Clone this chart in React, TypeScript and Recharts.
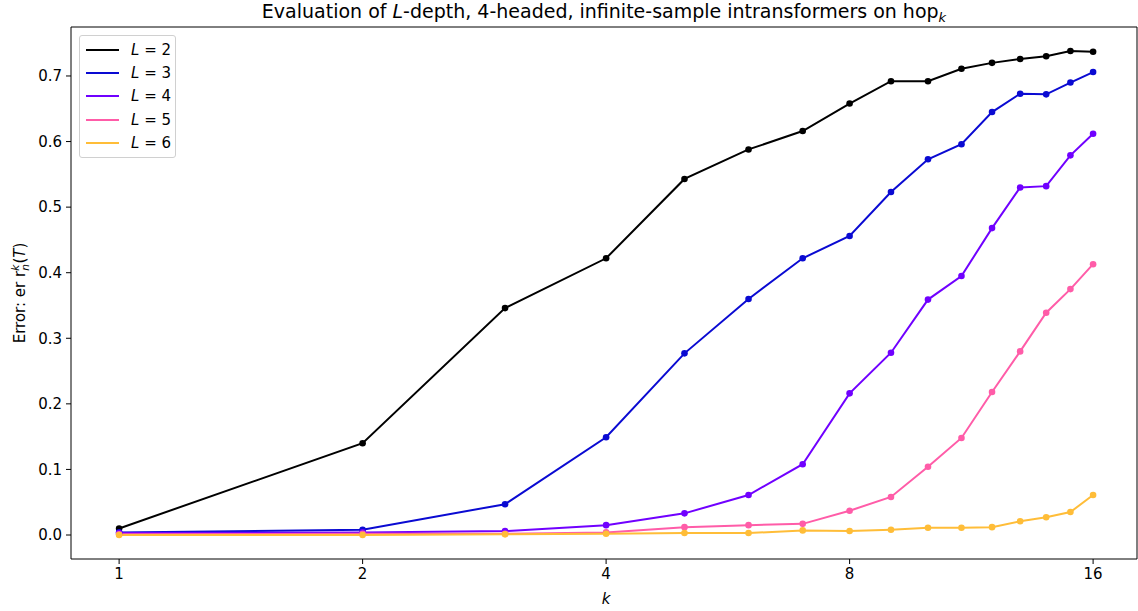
import React from "react";
import { LineChart, Line, XAxis, YAxis, ReferenceLine } from "recharts";

// hop length k on the x axis (log2 scale)
const ks = [1, 2, 3, 4, 5, 6, 7, 8, 9, 10, 11, 12, 13, 14, 15, 16];

// error per depth L
const errL2 = [0.01, 0.14, 0.346, 0.422, 0.543, 0.588, 0.616, 0.658, 0.692, 0.692, 0.711, 0.72, 0.726, 0.73, 0.738, 0.737];
const errL3 = [0.004, 0.008, 0.047, 0.149, 0.277, 0.36, 0.422, 0.456, 0.523, 0.573, 0.596, 0.645, 0.673, 0.672, 0.69, 0.706];
const errL4 = [0.003, 0.004, 0.006, 0.015, 0.033, 0.061, 0.108, 0.216, 0.278, 0.359, 0.395, 0.468, 0.53, 0.532, 0.579, 0.612];
const errL5 = [0.001, 0.002, 0.002, 0.004, 0.012, 0.015, 0.017, 0.037, 0.058, 0.104, 0.148, 0.218, 0.28, 0.339, 0.375, 0.413];
const errL6 = [0.0, 0.0, 0.001, 0.002, 0.003, 0.003, 0.007, 0.006, 0.008, 0.011, 0.011, 0.012, 0.021, 0.027, 0.035, 0.061];

const yTicks = [0, 0.1, 0.2, 0.3, 0.4, 0.5, 0.6, 0.7];
const xTicks = [1, 2, 4, 8, 16];

const series = [
  { key: "L2", depth: 2, values: errL2, color: "#000000" },
  { key: "L3", depth: 3, values: errL3, color: "#0a0ad2" },
  { key: "L4", depth: 4, values: errL4, color: "#7000ff" },
  { key: "L5", depth: 5, values: errL5, color: "#ff5ca8" },
  { key: "L6", depth: 6, values: errL6, color: "#ffbd38" },
];

const rows = ks.map((k, i) => {
  const row: Record<string, number> = { k };
  series.forEach((s) => {
    row[s.key] = s.values[i];
  });
  return row;
});

const FONT = "DejaVu Sans, sans-serif";
const X_DOMAIN: [number, number] = [0.872, 18.13];
const Y_DOMAIN: [number, number] = [-0.0366, 0.7747];
const TICK = { fill: "#000", fontSize: 15, fontFamily: FONT };

function LegendBox() {
  return (
    <div
      style={{
        position: "absolute",
        left: 79,
        top: 35,
        width: 97,
        boxSizing: "border-box",
        border: "1px solid #d0d0d0",
        borderRadius: 3,
        background: "rgba(255,255,255,0.8)",
        padding: "2px 0 2px 6px",
        fontFamily: FONT,
        fontSize: 15,
      }}
    >
      {series.map((s) => (
        <div
          key={s.key}
          style={{ display: "flex", alignItems: "center", height: 23.4 }}
        >
          <span
            style={{
              display: "inline-block",
              width: 33,
              height: 2,
              background: s.color,
              marginRight: 12,
            }}
          />
          <span>
            <i>L</i> = {s.depth}
          </span>
        </div>
      ))}
    </div>
  );
}

export default function App() {
  return (
    <div
      style={{
        position: "absolute",
        left: 0,
        top: 0,
        width: 1138,
        height: 611,
        background: "#fff",
      }}
    >
      <LineChart
        width={1138}
        height={611}
        data={rows}
        margin={{ top: 27, right: 1, left: 0, bottom: 0 }}
      >
        <XAxis
          dataKey="k"
          type="number"
          scale="log"
          domain={X_DOMAIN}
          allowDataOverflow
          ticks={xTicks}
          tick={TICK}
          tickSize={5}
          tickMargin={4}
          height={52}
          stroke="#000"
          tickLine={{ stroke: "#000" }}
        />
        <YAxis
          type="number"
          domain={Y_DOMAIN}
          allowDataOverflow
          ticks={yTicks}
          tickFormatter={(v: number) => v.toFixed(1)}
          tick={TICK}
          tickSize={5}
          tickMargin={4}
          width={71}
          stroke="#000"
          tickLine={{ stroke: "#000" }}
        />
        <ReferenceLine y={Y_DOMAIN[1]} stroke="#000" strokeWidth={1} />
        <ReferenceLine x={X_DOMAIN[1]} stroke="#000" strokeWidth={1} />
        {series.map((s) => (
          <Line
            key={s.key}
            dataKey={s.key}
            name={`L = ${s.depth}`}
            stroke={s.color}
            strokeWidth={2}
            dot={{ r: 3.3, fill: s.color, stroke: s.color, strokeWidth: 0 }}
            isAnimationActive={false}
          />
        ))}
      </LineChart>
      <LegendBox />
      <svg
        width={1138}
        height={611}
        style={{ position: "absolute", left: 0, top: 0, pointerEvents: "none" }}
        fontFamily={FONT}
      >
        <text x={604} y={18} textAnchor="middle" fontSize={19} fill="#000">
          Evaluation of <tspan fontStyle="italic">L</tspan>-depth, 4-headed,
          infinite-sample intransformers on hop
          <tspan fontStyle="italic" fontSize={13} dy={4}>
            k
          </tspan>
        </text>
        <text x={606} y={604} textAnchor="middle" fontSize={15} fontStyle="italic">
          k
        </text>
        <text
          transform="translate(25,293) rotate(-90)"
          textAnchor="middle"
          fontSize={15}
          fill="#000"
        >
          Error: er r
          <tspan fontStyle="italic" fontSize={10.5} dy={4}>
            n
          </tspan>
          <tspan fontStyle="italic" fontSize={10.5} dy={-10} dx={-6.5}>
            k
          </tspan>
          <tspan dy={6} dx={1}>(</tspan>
          <tspan fontStyle="italic">T</tspan>
          <tspan>)</tspan>
        </text>
      </svg>
    </div>
  );
}
